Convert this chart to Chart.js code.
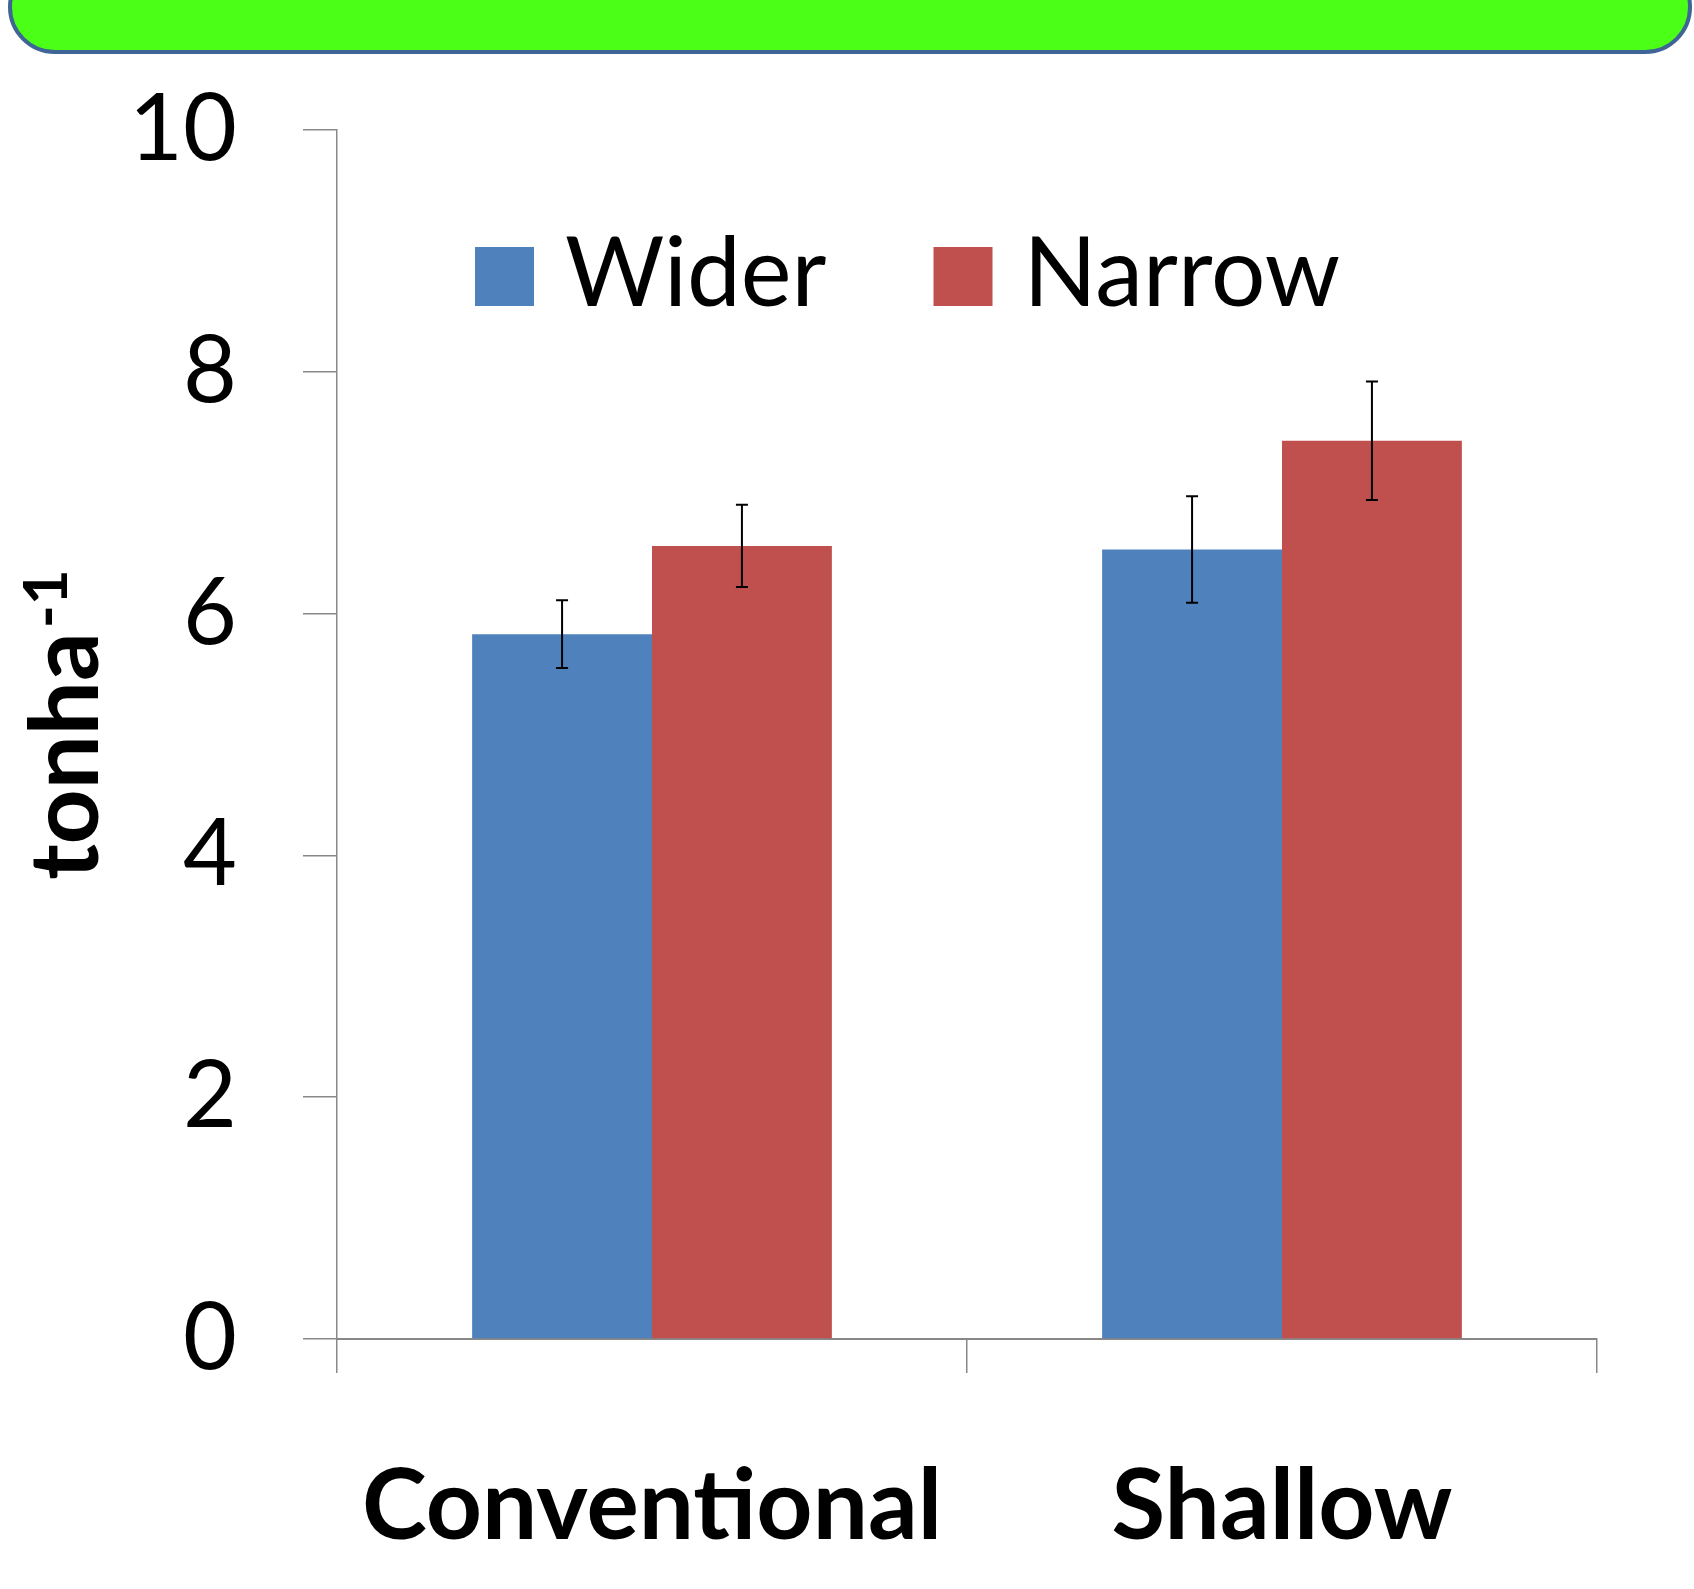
<!DOCTYPE html>
<html>
<head>
<meta charset="utf-8">
<script src="https://cdn.jsdelivr.net/npm/chart.js@4"></script>
<style>
  html, body { margin: 0; padding: 0; background: #fff; overflow: hidden; }
  #banner {
    position: absolute; left: 8px; top: -40px; width: 1676px; height: 86px;
    background: #4cff16; border: 4px solid #3f6496; border-radius: 62px;
  }
  #wrap { position: absolute; left: 0; top: 0; }
</style>
</head>
<body>
<div id="banner"></div>
<div id="wrap"><canvas id="yieldChart" width="1694" height="1589"></canvas></div>
<script>
// data
const categories = ['Conventional', 'Shallow'];
const seriesNames = ['Wider', 'Narrow'];
const widerValues = [5.83, 6.53];
const narrowValues = [6.56, 7.43];
const widerErrors = [0.28, 0.44];
const narrowErrors = [0.34, 0.49];
const yAxisTitle = 'tonha';
const yAxisTitleSup = '-1';

const blue = '#4f81bd';
const red = '#c0504d';
const axisGray = '#888888';

Chart.defaults.font.family = 'Lato';
Chart.defaults.color = '#000';

// error bars on top of each bar
const errorBars = {
  id: 'errorBars',
  afterDatasetsDraw(chart) {
    const ctx = chart.ctx;
    const yScale = chart.scales.y;
    const errs = [widerErrors, narrowErrors];
    ctx.save();
    ctx.strokeStyle = '#000';
    ctx.lineWidth = 2;
    chart.data.datasets.forEach((ds, di) => {
      const meta = chart.getDatasetMeta(di);
      meta.data.forEach((bar, i) => {
        const v = ds.data[i];
        const e = errs[di][i];
        const top = yScale.getPixelForValue(v + e);
        const bot = yScale.getPixelForValue(v - e);
        ctx.beginPath();
        ctx.moveTo(bar.x, top); ctx.lineTo(bar.x, bot);
        ctx.moveTo(bar.x - 6, top); ctx.lineTo(bar.x + 6, top);
        ctx.moveTo(bar.x - 6, bot); ctx.lineTo(bar.x + 6, bot);
        ctx.stroke();
      });
    });
    ctx.restore();
  }
};

// legend sits inside the plot area
const innerLegend = {
  id: 'innerLegend',
  afterDraw(chart) {
    const ctx = chart.ctx;
    const area = chart.chartArea;
    const box = 59;
    let x = area.left + 138;
    const top = area.top + 117;
    ctx.save();
    ctx.font = '96px Lato';
    ctx.textBaseline = 'alphabetic';
    ctx.textAlign = 'left';
    chart.data.datasets.forEach((ds) => {
      ctx.fillStyle = ds.backgroundColor;
      ctx.fillRect(x, top, box, box);
      ctx.fillStyle = '#000';
      ctx.fillText(ds.label, x + box + 31, top + box);
      x += box + 31 + ctx.measureText(ds.label).width + 107;
    });
    ctx.restore();
  }
};

// y title with superscript
const yTitle = {
  id: 'yTitle',
  afterDraw(chart) {
    const ctx = chart.ctx;
    const area = chart.chartArea;
    ctx.save();
    ctx.font = 'bold 96px Lato';
    const w1 = ctx.measureText(yAxisTitle).width;
    ctx.font = 'bold 62px Lato';
    const w2 = ctx.measureText(yAxisTitleSup).width;
    const total = w1 + w2 + 4;
    const cy = (area.top + area.bottom) / 2 - 10;
    ctx.translate(98, cy + total / 2);
    ctx.rotate(-Math.PI / 2);
    ctx.fillStyle = '#000';
    ctx.textBaseline = 'alphabetic';
    ctx.textAlign = 'left';
    ctx.font = 'bold 96px Lato';
    ctx.fillText(yAxisTitle, 0, 0);
    ctx.font = 'bold 62px Lato';
    ctx.fillText(yAxisTitleSup, w1 + 4, -31);
    ctx.restore();
  }
};

const ctx = document.getElementById('yieldChart').getContext('2d');
const chart = new Chart(ctx, {
  type: 'bar',
  data: {
    labels: categories,
    datasets: [
      { label: seriesNames[0], data: widerValues, backgroundColor: blue },
      { label: seriesNames[1], data: narrowValues, backgroundColor: red }
    ]
  },
  options: {
    responsive: false,
    animation: false,
    devicePixelRatio: 1,
    layout: { padding: { top: 130, right: 97, left: 0, bottom: 0 } },
    datasets: {
      bar: { categoryPercentage: 0.571, barPercentage: 1.0, borderWidth: 0 }
    },
    plugins: {
      legend: { display: false },
      tooltip: { enabled: false }
    },
    scales: {
      x: {
        grid: {
          offset: true, drawOnChartArea: false, drawTicks: true,
          tickLength: 34, tickColor: axisGray, lineWidth: 1.5
        },
        border: { color: axisGray, width: 2 },
        ticks: { font: { size: 98, weight: 'bold' }, color: '#000', padding: 76, maxRotation: 0 },
        afterFit(scale) { scale.height = 250; }
      },
      y: {
        min: 0, max: 10,
        grid: {
          drawOnChartArea: false, drawTicks: true,
          tickLength: 34, tickColor: axisGray, lineWidth: 1.5
        },
        border: { color: axisGray, width: 1.5 },
        ticks: { stepSize: 2, font: { size: 93 }, color: '#000', padding: 66 },
        afterFit(scale) { scale.width = 337; }
      }
    }
  },
  plugins: [errorBars, innerLegend, yTitle]
});
</script>
</body>
</html>
